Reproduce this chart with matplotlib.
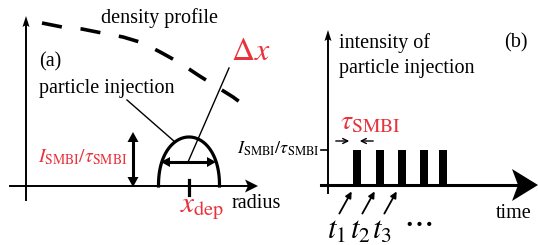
import matplotlib.pyplot as plt
import numpy as np
from matplotlib.patches import Polygon

plt.rcParams['font.family'] = ['Liberation Serif', 'DejaVu Serif']
plt.rcParams['mathtext.fontset'] = 'stix'

RED = '#e8323c'

# density profile (dashed) in pixels
prof_x = [42, 62, 82, 102, 123, 143, 162, 180, 198, 217, 233, 248]
prof_y = [23, 27, 29, 33, 37, 43, 53, 63, 75, 87, 97, 108]

# deposition bump
x_dep = 189
bump_half = 30.5
bump_h = 49

# pulse train (b)
pulse_t = [353, 376, 398, 420, 439]
pulse_w = 8
pulse_top = 150
t_labels = ['$t_1$', '$t_2$', '$t_3$']

fig = plt.figure(figsize=(5.38, 2.45), dpi=100)
ax = fig.add_axes([0, 0, 1, 1])
ax.set_xlim(0, 538)
ax.set_ylim(245, 0)
ax.axis('off')

def arrowhead(tip, back, half, notch=0.0):
    tip = np.array(tip, float); back = np.array(back, float)
    d = tip - back; L = np.hypot(*d); u = d / L; n = np.array([-u[1], u[0]])
    pts = [tip, back + n*half, back + u*notch, back - n*half]
    ax.add_patch(Polygon(pts, closed=True, color='k', lw=0))

def darrow(p0, p1, lw=2, head=8, half=4.5):
    p0 = np.array(p0, float); p1 = np.array(p1, float)
    u = (p1 - p0) / np.hypot(*(p1 - p0))
    ax.plot([p0[0]+u[0]*head*0.8, p1[0]-u[0]*head*0.8], [p0[1]+u[1]*head*0.8, p1[1]-u[1]*head*0.8], 'k', lw=lw)
    arrowhead(p1, p1 - u*head, half)
    arrowhead(p0, p0 + u*head, half)

# ---------------- panel (a)
ax.plot([10, 248], [186, 186], 'k', lw=1.4)
arrowhead((258, 186), (245, 186), 6.5, notch=3)
ax.plot([26, 26], [200, 24], 'k', lw=1.4)
arrowhead((26, 16), (26, 27), 3.5, notch=2)

ax.plot(prof_x, prof_y, 'k', lw=2.6, dashes=(5.6, 5.2), solid_capstyle='butt')

th = np.linspace(0, np.pi, 100)
bx = x_dep - bump_half*np.cos(th)
by = 186 - bump_h*np.sin(th)**0.9
ax.plot(bx, by, 'k', lw=2.3)
ax.plot([x_dep, x_dep], [180, 195], 'k', lw=2.3)
darrow((161, 162), (216, 162), lw=2.2, head=9, half=5)
darrow((133, 132), (133, 187), lw=2.2, head=10, half=5.5)

ax.plot([127, 175], [100, 142], 'k', lw=1)
ax.plot([229, 188], [68, 162], 'k', lw=1)

ax.text(101, 18, 'density profile', fontsize=14.5, va='center', ha='left')
ax.text(39, 62, '(a)', fontsize=14.5, va='center', ha='left')
ax.text(39, 88, 'particle injection', fontsize=14.5, va='center', ha='left')
ax.text(231, 52, r'$\Delta x$', fontsize=23, va='center', ha='left', color=RED)
ax.text(38, 157, r'$I_{\mathrm{SMBI}}/\tau_{\mathrm{SMBI}}$', fontsize=14, va='center', ha='left', color=RED)
ax.text(180, 209, r'$x_{\mathrm{dep}}$', fontsize=21, va='center', ha='left', color=RED)
ax.text(232, 203, 'radius', fontsize=14.5, va='center', ha='left')

# ---------------- panel (b)
ax.plot([321, 518], [185, 185], 'k', lw=2.2)
arrowhead((538, 185), (512, 185), 16, notch=6)
ax.plot([328, 328], [193, 38], 'k', lw=1.4)
arrowhead((328, 30), (328, 41), 3.5, notch=2)
ax.plot([321, 328], [pulse_top, pulse_top], 'k', lw=1.2)

for t in pulse_t:
    ax.fill_between([t, t + pulse_w], [pulse_top]*2, [185]*2, color='k', lw=0)

ax.annotate('', xy=(352, 141), xytext=(333, 141),
            arrowprops=dict(arrowstyle='->', lw=1, mutation_scale=9))
ax.annotate('', xy=(357, 141), xytext=(376, 141),
            arrowprops=dict(arrowstyle='->', lw=1, mutation_scale=9))

for i, lab in enumerate(t_labels):
    t = pulse_t[i]
    ax.annotate('', xy=(t, 189), xytext=(t - 15, 216),
                arrowprops=dict(arrowstyle='-|>', lw=1.3, mutation_scale=9, color='k'))
    ax.text(t - 26, 231, lab, fontsize=22, va='center', ha='left')
ax.text(418, 222, r'$\cdots$', fontsize=24, va='center', ha='center')

ax.text(339, 43, 'intensity of', fontsize=14.5, va='center', ha='left')
ax.text(339, 68, 'particle injection', fontsize=14.5, va='center', ha='left')
ax.text(504, 43, '(b)', fontsize=14.5, va='center', ha='left')
ax.text(340, 123, r'$\tau_{\mathrm{SMBI}}$', fontsize=20, va='center', ha='left', color=RED)
ax.text(320, 149, r'$I_{\mathrm{SMBI}}/\tau_{\mathrm{SMBI}}$', fontsize=13, va='center', ha='right')
ax.text(496, 213, 'time', fontsize=14.5, va='center', ha='left')

fig.savefig('out.png', dpi=100)
